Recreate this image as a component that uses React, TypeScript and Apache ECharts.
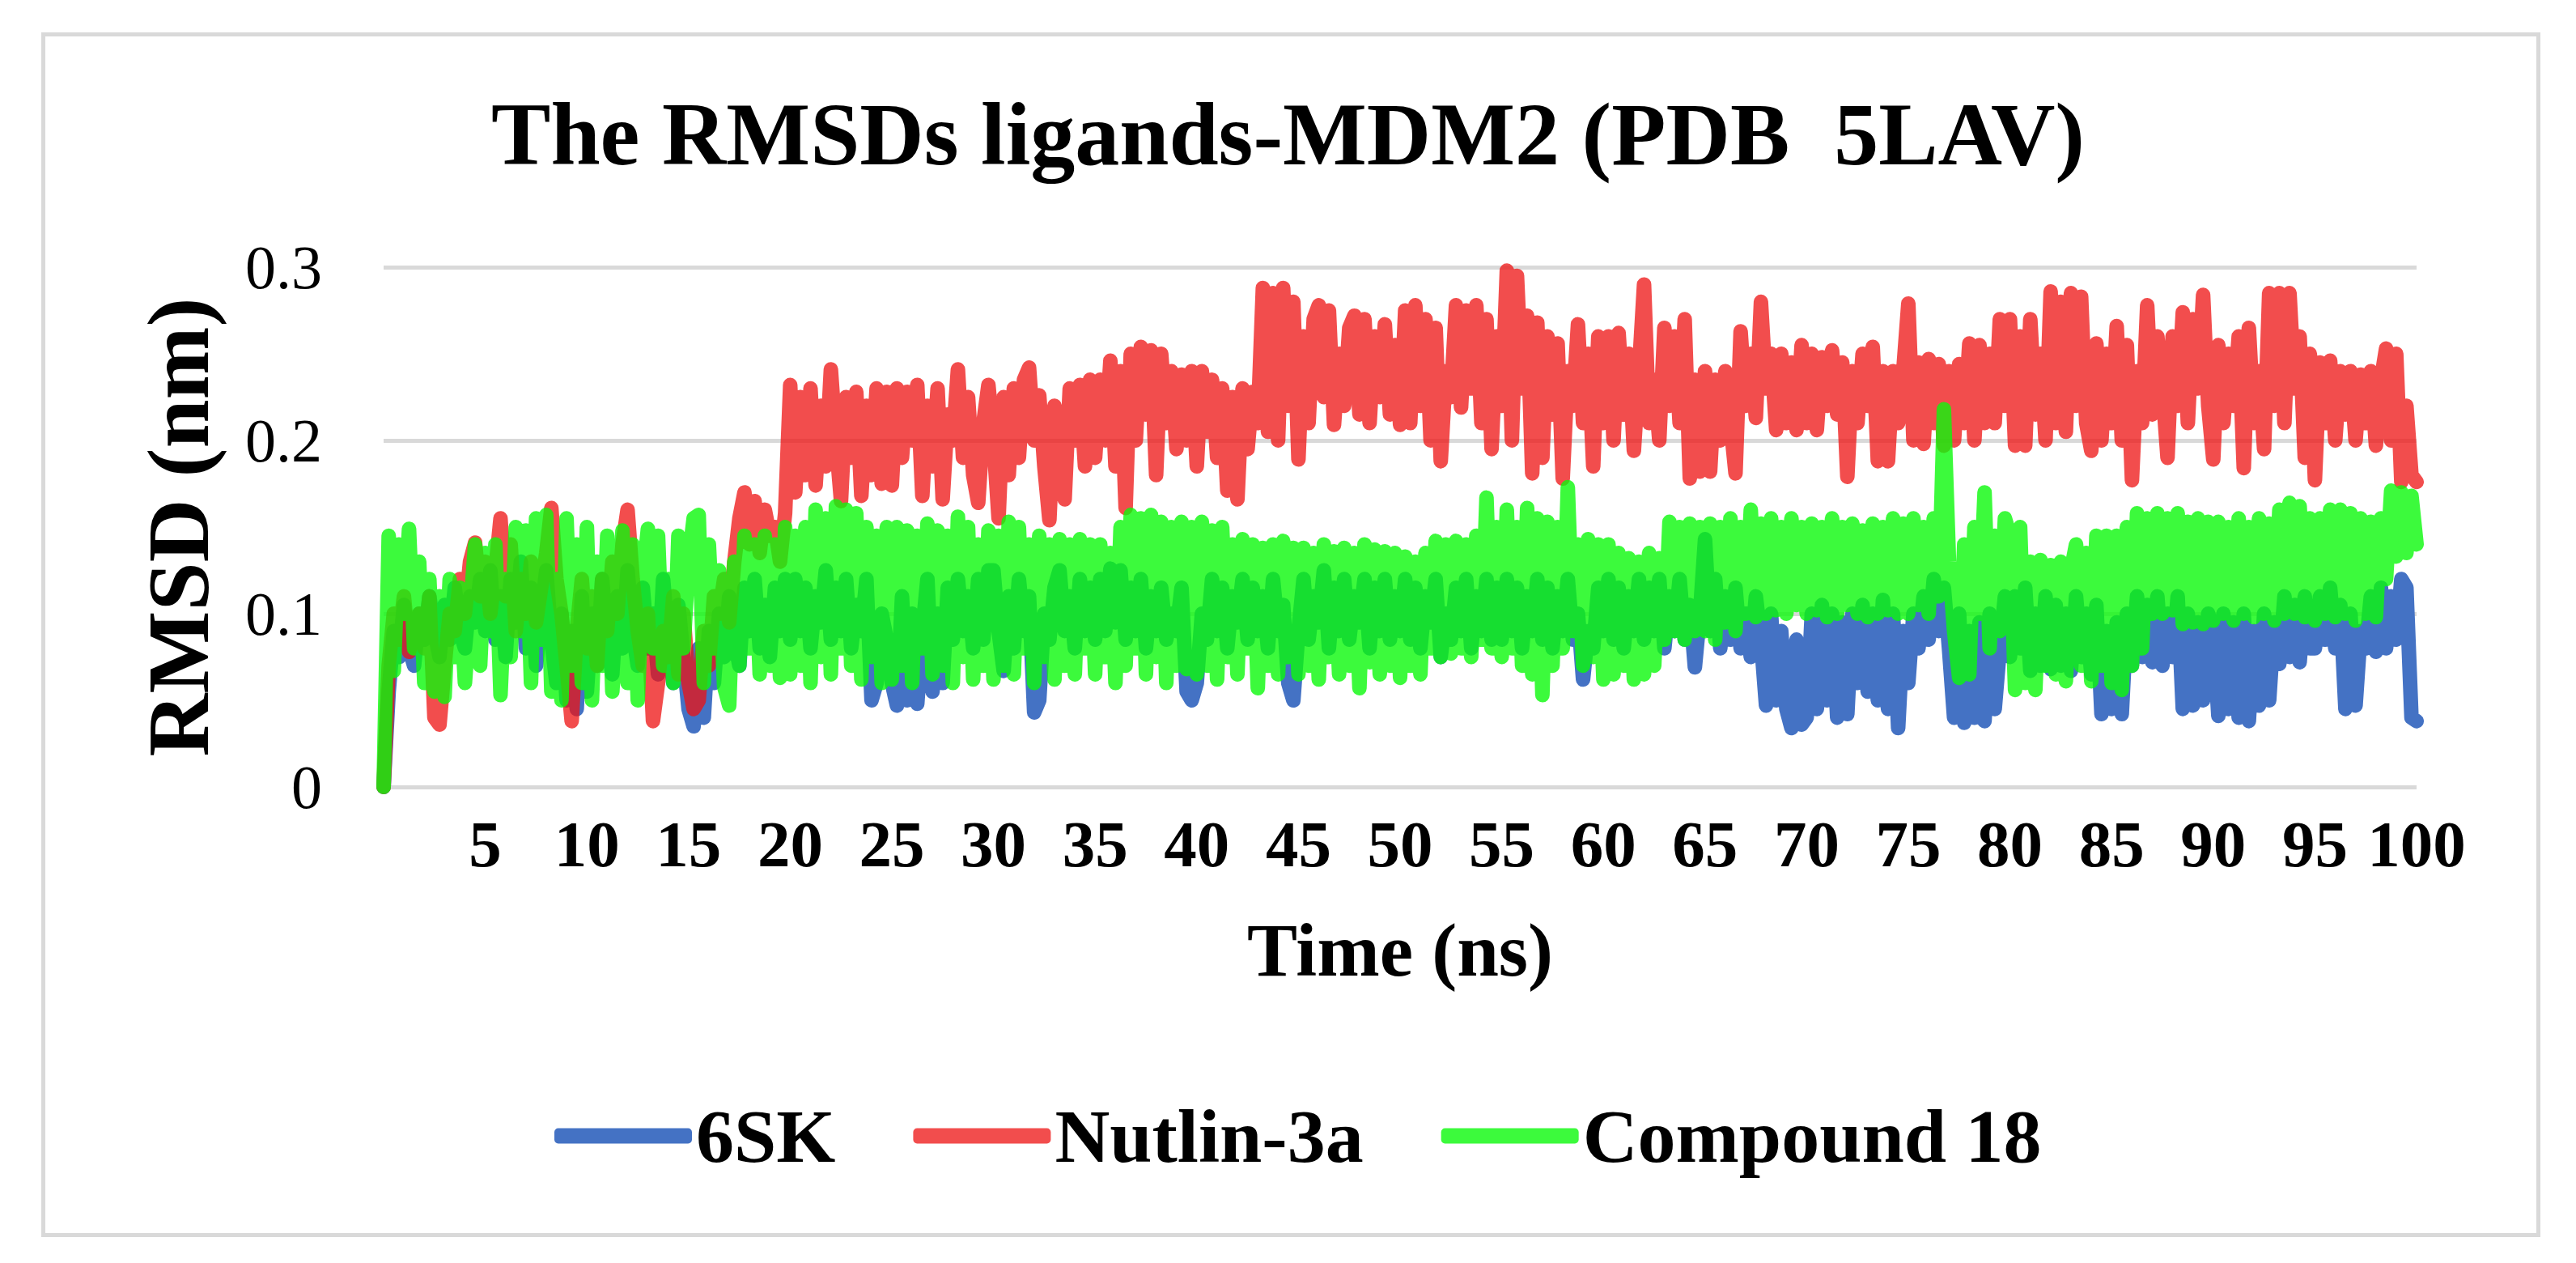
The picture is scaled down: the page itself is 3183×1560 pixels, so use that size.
import React, { useEffect, useRef } from "react";
import * as echarts from "echarts";

const TITLE = "The RMSDs ligands-MDM2 (PDB  5LAV)";
const X_NAME = "Time (ns)";
const Y_NAME = "RMSD (nm)";
const SERIES_NAMES = ["6SK", "Nutlin-3a", "Compound 18"];
const X_TICK_LABELS = [5, 10, 15, 20, 25, 30, 35, 40, 45, 50, 55, 60, 65, 70, 75, 80, 85, 90, 95, 100];
const Y_TICK_LABELS = [0, 0.1, 0.2, 0.3];
const STEP_NS = 0.25; // sampling step of the values below (ns)

// RMSD (nm) every 0.25 ns, one row = 5 ns
const rmsd6SK = [
  0,.055,.09,.075,.105,.08,.07,.1,.085,.11,.09,.075,.105,.085,.115,.09,.08,.11,.095,.12,
  .09,.125,.085,.11,.075,.12,.095,.13,.08,.115,.07,.1,.125,.085,.06,.1,.05,.09,.045,.11,
  .055,.1,.07,.12,.085,.065,.11,.08,.125,.09,.07,.115,.08,.1,.065,.12,.085,.06,.105,.075,
  .045,.035,.08,.04,.09,.06,.1,.075,.11,.085,.07,.115,.09,.12,.08,.105,.075,.115,.09,.12,
  .085,.12,.09,.115,.08,.11,.095,.125,.085,.115,.09,.12,.08,.105,.09,.12,.05,.06,.1,.085,
  .06,.047,.11,.05,.1,.048,.09,.12,.055,.1,.06,.115,.085,.12,.09,.11,.08,.12,.085,.125,
  .125,.09,.067,.11,.08,.12,.09,.11,.043,.05,.1,.085,.115,.125,.09,.11,.08,.12,.09,.115,
  .085,.12,.09,.126,.095,.125,.085,.115,.09,.12,.08,.11,.09,.115,.085,.1,.09,.115,.055,.05,
  .06,.1,.085,.12,.09,.115,.08,.11,.095,.12,.085,.115,.09,.11,.08,.12,.09,.105,.06,.05,
  .09,.12,.085,.11,.095,.125,.08,.115,.09,.12,.085,.11,.095,.12,.08,.115,.09,.12,.085,.11,
  .09,.12,.085,.115,.08,.11,.095,.12,.075,.1,.085,.115,.09,.12,.08,.11,.09,.12,.085,.115,
  .085,.12,.09,.115,.08,.11,.09,.12,.085,.115,.08,.11,.09,.12,.085,.1,.062,.09,.08,.115,
  .09,.12,.085,.115,.08,.11,.09,.12,.085,.115,.09,.12,.08,.11,.09,.12,.085,.105,.069,.1,
  .143,.09,.12,.08,.11,.085,.115,.08,.1,.075,.11,.085,.047,.1,.05,.09,.045,.034,.085,.036,
  .04,.1,.045,.105,.05,.1,.04,.095,.042,.1,.06,.105,.055,.1,.05,.108,.045,.1,.034,.09,
  .06,.1,.08,.11,.085,.12,.09,.115,.08,.04,.1,.037,.09,.04,.095,.038,.1,.045,.08,.11,
  .075,.11,.08,.115,.067,.1,.07,.11,.068,.105,.07,.1,.067,.11,.075,.1,.065,.105,.042,.09,
  .045,.095,.042,.1,.07,.11,.075,.105,.072,.11,.07,.1,.075,.11,.045,.1,.047,.095,.05,.1,
  .09,.041,.1,.045,.095,.04,.1,.038,.09,.047,.1,.05,.095,.071,.11,.075,.105,.072,.11,.08,
  .08,.11,.085,.115,.08,.105,.045,.1,.047,.09,.08,.11,.078,.115,.08,.11,.085,.12,.115,.04,
  .038,
];

const rmsdNutlin3a = [
  0,.07,.1,.085,.11,.078,.09,.1,.08,.11,.04,.036,.07,.1,.09,.12,.1,.13,.141,.11,
  .13,.1,.125,.155,.11,.14,.09,.12,.1,.13,.095,.115,.135,.161,.12,.1,.07,.038,.09,.12,
  .08,.11,.07,.12,.09,.13,.1,.14,.16,.12,.09,.07,.1,.038,.06,.09,.075,.11,.065,.1,
  .06,.045,.05,.09,.07,.11,.1,.12,.095,.13,.155,.17,.14,.165,.135,.16,.145,.15,.13,.158,
  .232,.17,.225,.18,.23,.174,.22,.185,.241,.2,.165,.225,.19,.228,.168,.22,.18,.23,.175,.228,
  .174,.23,.19,.228,.2,.232,.168,.22,.185,.23,.166,.215,.2,.241,.19,.225,.18,.164,.21,.232,
  .2,.155,.225,.18,.23,.19,.235,.242,.2,.226,.185,.154,.22,.19,.166,.23,.2,.232,.185,.235,
  .19,.235,.2,.246,.185,.24,.161,.25,.2,.254,.215,.252,.18,.25,.21,.24,.195,.238,.2,.24,
  .185,.24,.205,.235,.19,.23,.171,.225,.166,.23,.195,.228,.21,.288,.205,.285,.2,.288,.22,.28,
  .189,.26,.21,.27,.278,.225,.275,.209,.25,.22,.265,.272,.215,.27,.21,.26,.225,.267,.215,.255,
  .209,.275,.21,.278,.22,.27,.2,.265,.188,.24,.225,.278,.219,.275,.23,.278,.21,.27,.195,.26,
  .22,.298,.2,.295,.23,.272,.181,.268,.19,.26,.215,.256,.178,.24,.22,.267,.21,.25,.185,.26,
  .21,.26,.2,.262,.215,.25,.194,.24,.29,.21,.235,.2,.265,.22,.26,.21,.27,.178,.235,.182,
  .24,.182,.235,.2,.24,.21,.181,.263,.22,.25,.213,.28,.23,.25,.206,.25,.21,.245,.206,.255,
  .21,.25,.206,.248,.22,.252,.215,.245,.179,.24,.21,.25,.22,.254,.188,.24,.188,.24,.21,.24,
  .279,.2,.245,.198,.247,.21,.244,.197,.24,.2,.244,.21,.256,.2,.255,.21,.25,.21,.27,.22,
  .27,.197,.26,.197,.27,.215,.25,.2,.286,.21,.28,.205,.285,.22,.283,.21,.194,.256,.2,.25,
  .21,.266,.2,.255,.177,.24,.21,.278,.215,.26,.23,.19,.26,.22,.274,.21,.27,.23,.284,.22,
  .189,.255,.21,.25,.22,.26,.184,.265,.21,.24,.195,.285,.22,.285,.21,.285,.23,.26,.19,.25,
  .177,.245,.21,.246,.2,.24,.215,.24,.2,.238,.21,.24,.197,.235,.253,.2,.25,.176,.22,.18,
  .176,
];

const rmsdCompound18 = [
  0,.145,.067,.14,.1,.149,.08,.13,.06,.12,.055,.11,.052,.12,.075,.115,.06,.1,.14,.07,
  .135,.09,.14,.053,.12,.075,.15,.09,.148,.06,.155,.085,.157,.055,.12,.05,.155,.07,.14,.06,
  .15,.05,.13,.07,.145,.055,.1,.148,.06,.14,.05,.12,.149,.08,.145,.07,.12,.06,.145,.08,
  .13,.155,.157,.06,.14,.08,.125,.058,.047,.13,.07,.145,.08,.14,.065,.145,.07,.14,.063,.15,
  .065,.145,.07,.15,.06,.16,.075,.155,.065,.162,.08,.16,.07,.158,.062,.15,.075,.145,.06,.15,
  .062,.15,.07,.148,.06,.145,.08,.152,.065,.148,.07,.145,.06,.156,.075,.15,.062,.14,.07,.148,
  .062,.145,.07,.153,.065,.15,.08,.14,.06,.145,.075,.14,.062,.143,.07,.14,.065,.143,.08,.14,
  .065,.14,.075,.135,.06,.15,.07,.157,.08,.155,.065,.157,.075,.153,.06,.15,.07,.153,.068,.15,
  .065,.153,.07,.148,.062,.15,.075,.14,.065,.143,.08,.14,.057,.138,.07,.14,.065,.142,.075,.138,
  .065,.138,.07,.135,.062,.14,.075,.136,.065,.138,.07,.135,.057,.14,.072,.137,.065,.136,.07,.135,
  .063,.133,.07,.13,.065,.135,.08,.142,.075,.14,.077,.142,.08,.14,.075,.145,.085,.167,.08,.15,
  .075,.16,.08,.15,.07,.161,.065,.155,.053,.153,.07,.15,.08,.173,.09,.14,.07,.143,.075,.14,
  .062,.14,.065,.135,.07,.132,.062,.13,.065,.135,.07,.132,.085,.153,.09,.15,.085,.152,.09,.15,
  .09,.152,.085,.15,.095,.155,.09,.15,.1,.16,.098,.152,.1,.155,.102,.15,.1,.155,.105,.15,
  .1,.152,.102,.15,.098,.155,.1,.15,.105,.152,.1,.148,.098,.152,.1,.15,.102,.155,.1,.152,
  .1,.155,.105,.15,.1,.155,.11,.218,.13,.09,.063,.14,.065,.15,.1,.17,.08,.145,.09,.155,
  .145,.056,.15,.06,.13,.056,.131,.07,.128,.065,.13,.061,.125,.14,.07,.135,.061,.145,.07,.145,
  .06,.145,.056,.15,.07,.158,.08,.155,.1,.158,.1,.155,.102,.158,.094,.153,.095,.155,.094,.153,
  .096,.153,.1,.15,.096,.155,.1,.15,.098,.155,.1,.152,.096,.16,.1,.164,.1,.162,.098,.155,
  .096,.155,.1,.16,.098,.16,.1,.158,.096,.155,.1,.153,.098,.155,.12,.171,.133,.17,.135,.168,
  .14,
];

const FONT = "'Liberation Serif', 'Times New Roman', Times, serif";

const toPoints = (values: number[]) => values.map((v, i) => [i * STEP_NS, v]);

export default function App() {
  const ref = useRef<HTMLDivElement>(null);

  useEffect(() => {
    if (!ref.current) return;
    const chart = echarts.init(ref.current, undefined, { renderer: "svg" });

    const lineBase = { width: 18, cap: "round", join: "round" };

    chart.setOption({
      animation: false,
      backgroundColor: "#ffffff",
      title: {
        text: TITLE,
        left: "center",
        top: 106,
        textStyle: { fontFamily: FONT, fontWeight: "bold", fontSize: 110, color: "#000000" },
      },
      legend: {
        left: 680,
        top: 1351,
        icon: "roundRect",
        itemWidth: 170,
        itemHeight: 19,
        itemGap: 96,
        textStyle: { fontFamily: FONT, fontWeight: "bold", fontSize: 94, color: "#000000" },
        data: [
          { name: SERIES_NAMES[0], itemStyle: { color: "#4472c4", opacity: 1 } },
          { name: SERIES_NAMES[1], itemStyle: { color: "#f24d4d", opacity: 1 } },
          { name: SERIES_NAMES[2], itemStyle: { color: "#3cfa3c", opacity: 1 } },
        ],
      },
      grid: { left: 474, right: 197, top: 330, bottom: 588, containLabel: false },
      xAxis: {
        type: "value",
        min: 0,
        max: 100,
        interval: 5,
        name: X_NAME,
        nameLocation: "middle",
        nameGap: 155,
        nameTextStyle: { fontFamily: FONT, fontWeight: "bold", fontSize: 93, color: "#000000" },
        axisLine: { show: false },
        axisTick: { show: false },
        splitLine: { show: false },
        axisLabel: {
          margin: 30,
          fontFamily: FONT,
          fontWeight: "bold",
          fontSize: 81,
          color: "#000000",
          formatter: (v: number) => (X_TICK_LABELS.includes(v) ? String(v) : ""),
        },
      },
      yAxis: {
        type: "value",
        min: 0,
        max: 0.3,
        interval: 0.1,
        name: Y_NAME,
        nameLocation: "middle",
        nameGap: 200,
        nameRotate: 90,
        nameTextStyle: { fontFamily: FONT, fontWeight: "bold", fontSize: 108, color: "#000000" },
        axisLine: { show: false },
        axisTick: { show: false },
        splitLine: { show: true, lineStyle: { color: "#d9d9d9", width: 5 } },
        axisLabel: {
          margin: 76,
          fontFamily: FONT,
          fontSize: 76,
          color: "#000000",
          formatter: (v: number) => {
            const t = Y_TICK_LABELS.find((y) => Math.abs(y - v) < 1e-9);
            return t === undefined ? "" : String(t);
          },
        },
      },
      series: [
        {
          name: SERIES_NAMES[0],
          type: "line",
          data: toPoints(rmsd6SK),
          symbol: "none",
          showSymbol: false,
          itemStyle: { color: "#4472c4" },
          lineStyle: { ...lineBase, color: "#4472c4", opacity: 1 },
          z: 2,
        },
        {
          name: SERIES_NAMES[1],
          type: "line",
          data: toPoints(rmsdNutlin3a),
          symbol: "none",
          showSymbol: false,
          itemStyle: { color: "#f24d4d" },
          lineStyle: { ...lineBase, color: "rgb(237,18,18)", opacity: 0.75 },
          z: 3,
        },
        {
          name: SERIES_NAMES[2],
          type: "line",
          data: toPoints(rmsdCompound18),
          symbol: "none",
          showSymbol: false,
          itemStyle: { color: "#3cfa3c" },
          lineStyle: { ...lineBase, color: "rgb(11,249,11)", opacity: 0.8 },
          z: 4,
        },
      ],
      graphic: [
        {
          type: "rect",
          left: 51,
          top: 40,
          shape: { x: 0, y: 0, width: 3083, height: 1483 },
          style: { fill: "none", stroke: "#d9d9d9", lineWidth: 5 },
          silent: true,
          z: -1,
        },
      ],
    });

    return () => chart.dispose();
  }, []);

  return (
    <div
      ref={ref}
      style={{ position: "absolute", left: 0, top: 0, width: 3183, height: 1560, background: "#ffffff" }}
    />
  );
}
